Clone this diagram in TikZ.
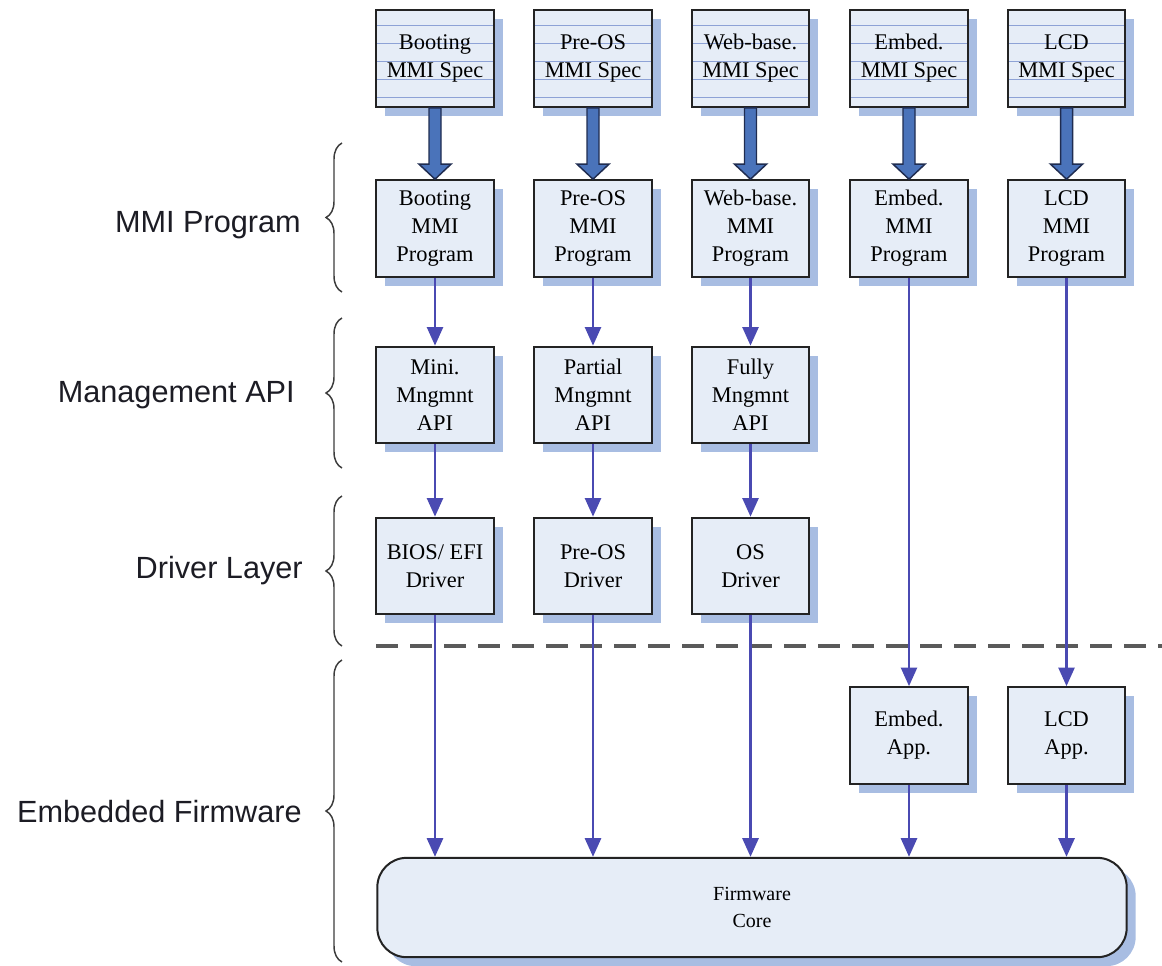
\documentclass[tikz,border=0pt]{standalone}
\usepackage{fontspec}
\setmainfont{Liberation Serif}
\newfontfamily\labelfont{Liberation Sans}
\usetikzlibrary{shadows,arrows.meta,calc,decorations.pathreplacing}

\definecolor{boxfill}{HTML}{E6EDF7}
\definecolor{shadowblue}{HTML}{A8BDE2}
\definecolor{ruleblue}{HTML}{8DA2D6}
\definecolor{bigarrow}{HTML}{4A73BA}
\definecolor{bigarrowedge}{HTML}{1F2C50}
\definecolor{flowline}{HTML}{4A4AB2}
\definecolor{edgedark}{HTML}{232323}
\definecolor{bracegray}{HTML}{3C3C3C}
\definecolor{dashgray}{HTML}{5A5A5A}
\definecolor{labeltext}{HTML}{1C1C24}

\begin{document}
\begin{tikzpicture}[x=0.75pt,y=-0.75pt,
  box/.style={draw=edgedark, line width=1.5pt, fill=boxfill,
    minimum width=88pt, minimum height=72.5pt, inner sep=0pt, align=center,
    font=\fontsize{16.8}{21}\selectfont,
    drop shadow={shadow xshift=6.75pt, shadow yshift=-6.75pt, fill=shadowblue, opacity=1}},
  specbox/.style={box,
    path picture={
      \foreach \d in {15,33,51,69,87}
        \draw[ruleblue, line width=1pt]
          ([yshift=-\d*0.75pt]path picture bounding box.north west) --
          ([yshift=-\d*0.75pt]path picture bounding box.north east);
    }},
  corebox/.style={box, minimum width=562pt, minimum height=74.5pt,
    rounded corners=22pt, font=\fontsize{15}{20}\selectfont},
  flow/.style={draw=flowline, line width=2pt,
    -{Triangle[length=14pt,width=12pt]}},
  fatarrow/.style={fill=bigarrow, draw=bigarrowedge, line width=1.1pt, line join=miter},
  layerbrace/.style={draw=bracegray, line width=1.1pt,
    decorate, decoration={brace, amplitude=12pt}},
  layerlabel/.style={anchor=base east, text=labeltext, inner sep=0pt,
    font=\labelfont\fontsize{23}{27}\selectfont},
  separator/.style={draw=dashgray, line width=2.3pt, dash pattern=on 16.5pt off 9pt}
]
\useasboundingbox (0,0) rectangle (1162,965);

% layer labels and braces
\node[layerlabel] (lmmi) at (301,232) {MMI Program};
\node[layerlabel] (lapi) at (295,402) {Management API};
\node[layerlabel] (ldrv) at (303,578) {Driver Layer};
\node[layerlabel] (lfw)  at (302,822) {Embedded Firmware};

\draw[layerbrace] (342,292) -- (342,143);
\draw[layerbrace] (342,468) -- (342,318);
\draw[layerbrace] (342,646) -- (342,496);
\draw[layerbrace] (342,962) -- (342,660);

% boundary between host side and firmware
\coordinate (sepL) at (376,646);
\coordinate (sepR) at (1162,646);
\draw[separator] (sepL) -- (sepR);

% specification documents
\node[specbox] (s1) at (435,58.5)    {Booting\\MMI Spec};
\node[specbox] (s2) at (593,58.5)    {Pre-OS\\MMI Spec};
\node[specbox] (s3) at (750.5,58.5)  {Web-base.\\MMI Spec};
\node[specbox] (s4) at (909,58.5)    {Embed.\\MMI Spec};
\node[specbox] (s5) at (1066.5,58.5) {LCD\\MMI Spec};

% MMI programs
\node[box] (p1) at (435,228.5)    {Booting\\MMI\\Program};
\node[box] (p2) at (593,228.5)    {Pre-OS\\MMI\\Program};
\node[box] (p3) at (750.5,228.5)  {Web-base.\\MMI\\Program};
\node[box] (p4) at (909,228.5)    {Embed.\\MMI\\Program};
\node[box] (p5) at (1066.5,228.5) {LCD\\MMI\\Program};

% management APIs
\node[box] (m1) at (435,395)   {Mini.\\Mngmnt\\API};
\node[box] (m2) at (593,395)   {Partial\\Mngmnt\\API};
\node[box] (m3) at (750.5,395) {Fully\\Mngmnt\\API};

% drivers
\node[box] (d1) at (435,566)   {BIOS/ EFI\\Driver};
\node[box] (d2) at (593,566)   {Pre-OS\\Driver};
\node[box] (d3) at (750.5,566) {OS\\Driver};

% embedded applications
\node[box] (a4) at (909,735.5)    {Embed.\\App.};
\node[box] (a5) at (1066.5,735.5) {LCD\\App.};

% firmware core
\node[corebox] (core) at (752,907.5) {Firmware\\Core};

% spec -> program block arrows
\foreach \i in {1,...,5}
  \draw[fatarrow] ($(s\i.south)+(-6,0)$) -- ($(p\i.north)+(-6,-15)$)
    -- ($(p\i.north)+(-16,-15)$) -- (p\i.north) -- ($(p\i.north)+(16,-15)$)
    -- ($(p\i.north)+(6,-15)$) -- ($(s\i.south)+(6,0)$) -- cycle;

% call flow
\foreach \i in {1,2,3} {
  \draw[flow] (p\i.south) -- (m\i.north);
  \draw[flow] (m\i.south) -- (d\i.north);
  \draw[flow] (d\i.south) -- (d\i.south |- core.north);
}
\foreach \i in {4,5} {
  \draw[flow] (p\i.south) -- (a\i.north);
  \draw[flow] (a\i.south) -- (a\i.south |- core.north);
}
\end{tikzpicture}
\end{document}
